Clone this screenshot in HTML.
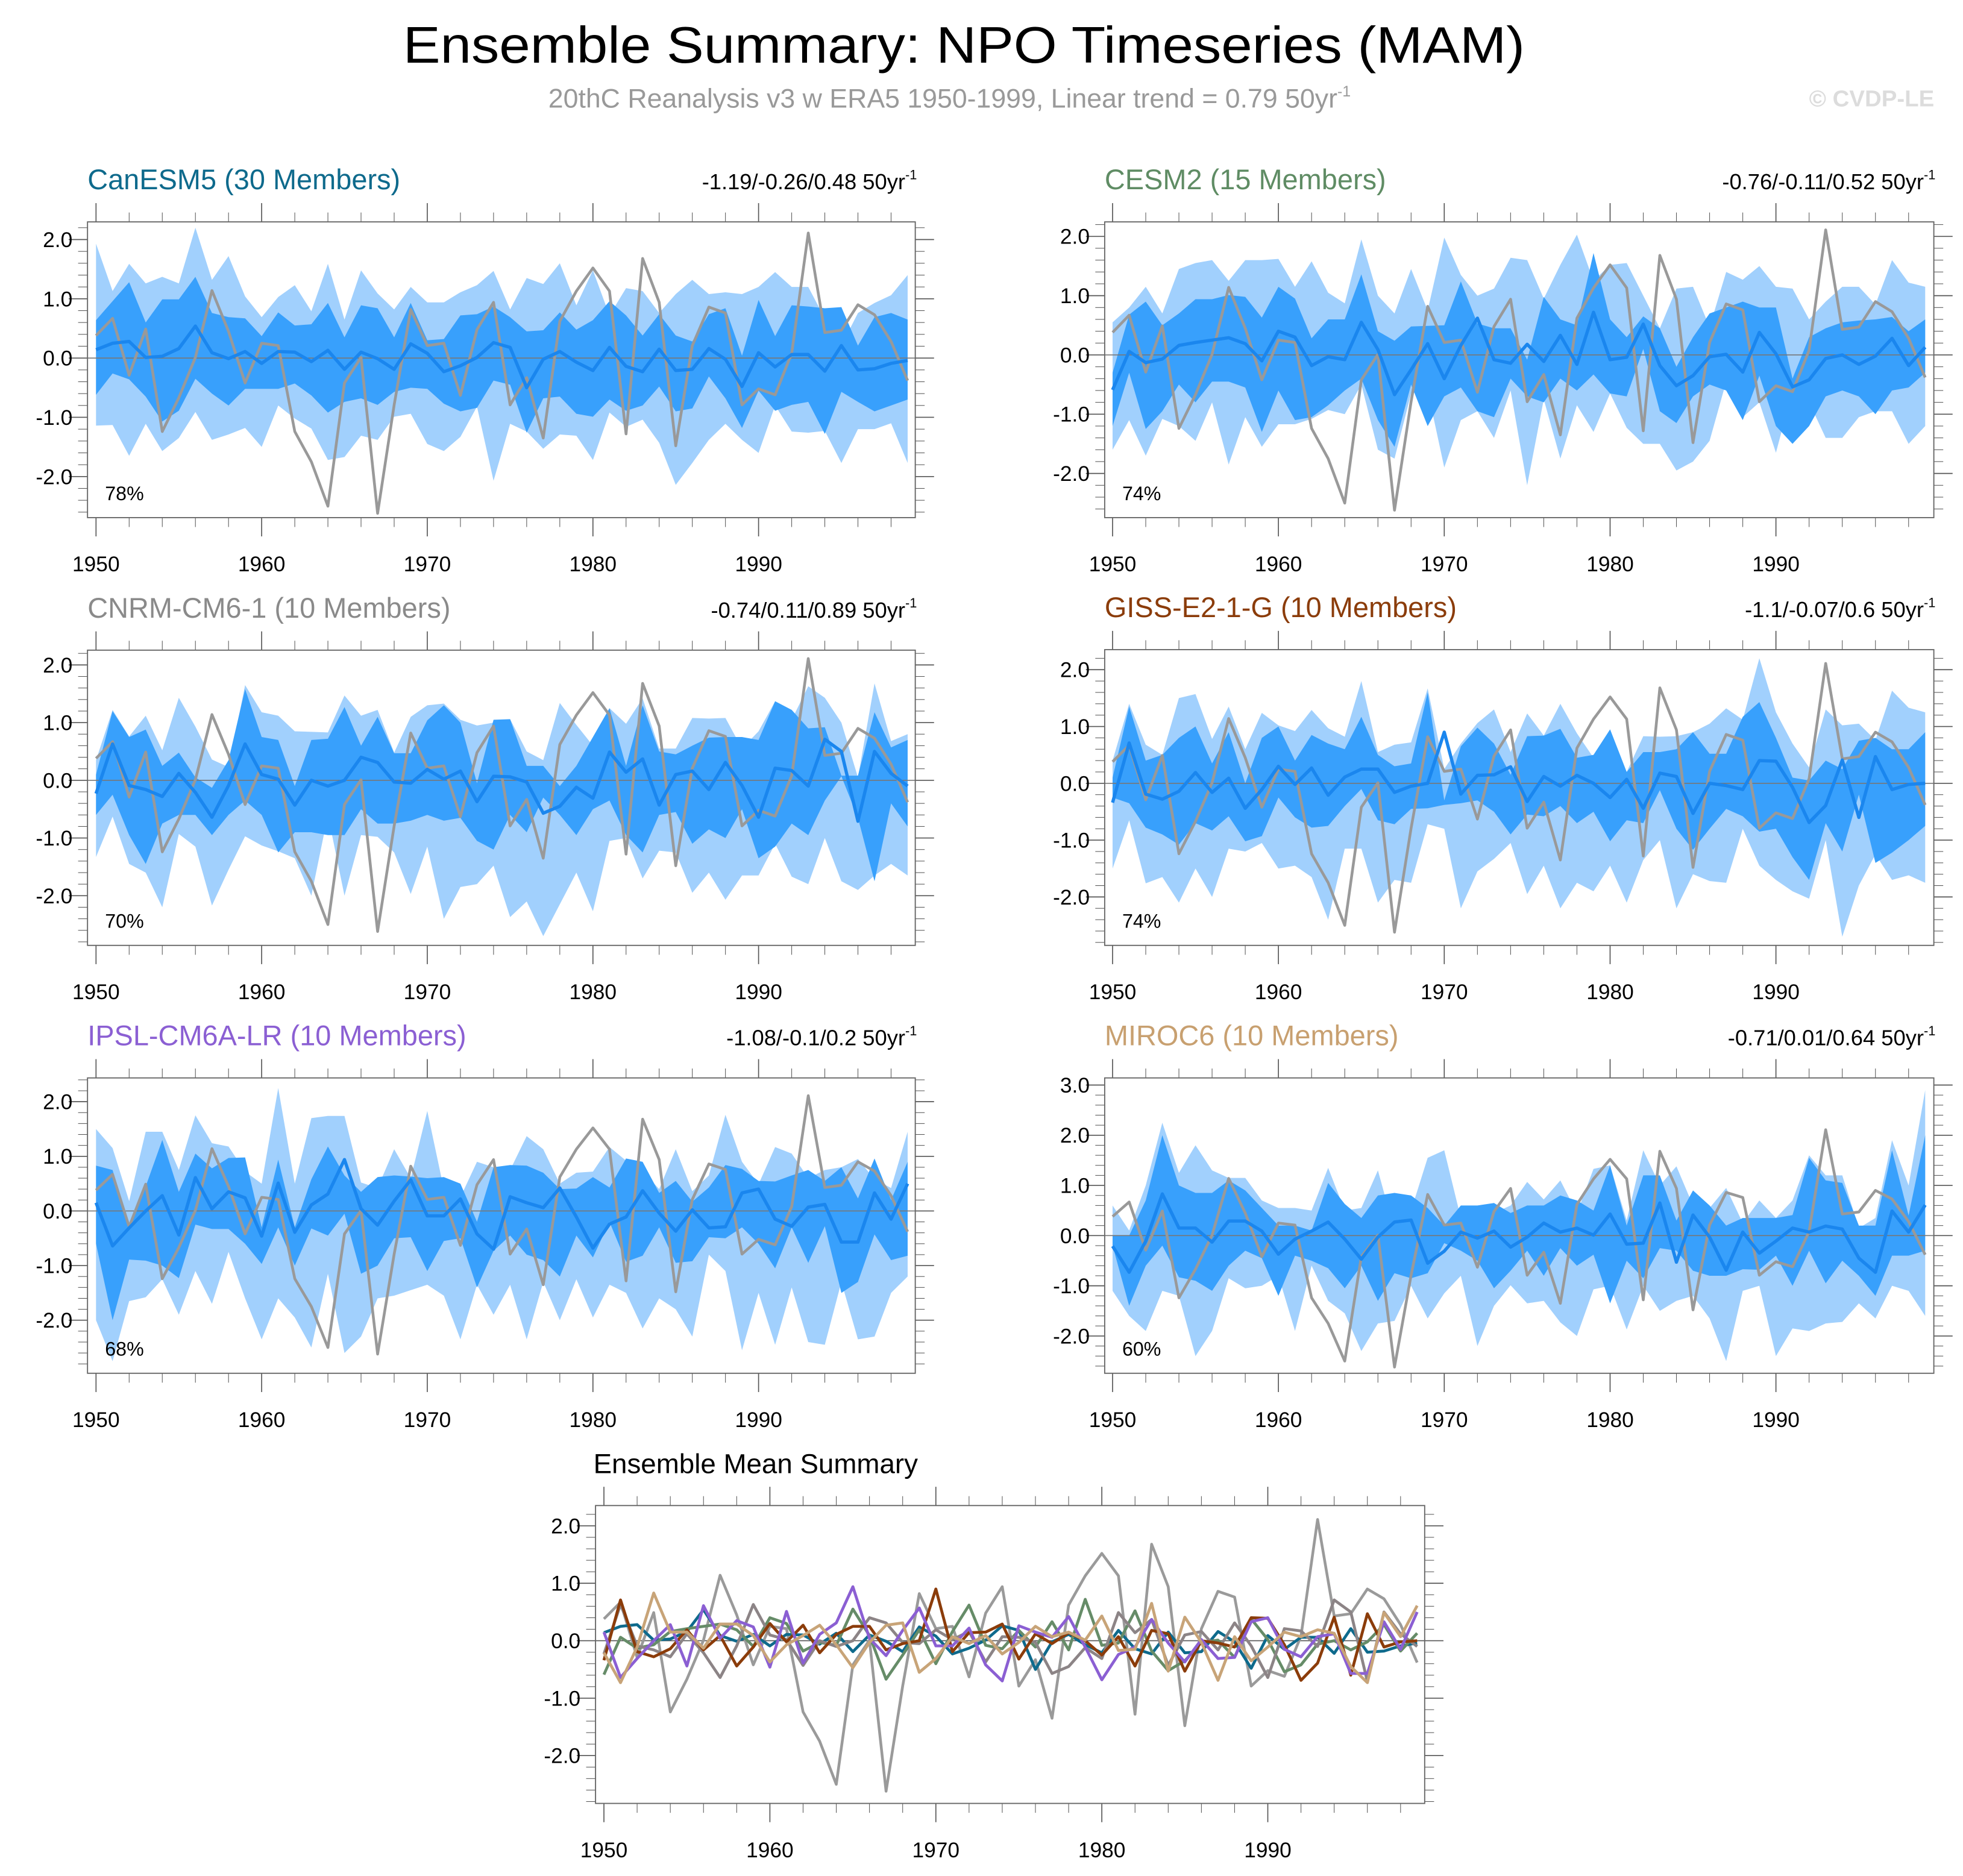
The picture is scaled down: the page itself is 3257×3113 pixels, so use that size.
<!DOCTYPE html>
<html><head><meta charset="utf-8"><title>Ensemble Summary: NPO Timeseries (MAM)</title>
<style>
html,body{margin:0;padding:0;background:#fff;}
svg{display:block;font-family:"Liberation Sans",Arial,sans-serif;}
</style></head>
<body>
<svg id="chart" xmlns="http://www.w3.org/2000/svg" width="3257" height="3113" viewBox="0 0 1568 1499" preserveAspectRatio="none">
<rect x="0" y="0" width="1568" height="1499" fill="#fff"/>
<text x="770" y="50" font-size="41" text-anchor="middle" textLength="896" lengthAdjust="spacingAndGlyphs" fill="#000">Ensemble Summary: NPO Timeseries (MAM)</text>
<text x="438" y="86" font-size="21.5" fill="#999">20thC Reanalysis v3 w ERA5 1950-1999, Linear trend = 0.79 50yr<tspan font-size="12" dy="-9">-1</tspan></text>
<text x="1545" y="85" font-size="18.5" font-weight="bold" text-anchor="end" fill="#dcdcdc">© CVDP-LE</text>
<g id="plots"></g>
</svg>
<script>
const years = [];
for (let y = 1950; y <= 1999; y++) years.push(y);
const xTickLabels = ["1950","1960","1970","1980","1990"];

const obs = [0.38,0.67,-0.29,0.49,-1.24,-0.67,0.01,1.14,0.45,-0.42,0.25,0.21,-1.24,-1.75,-2.5,-0.42,0.01,-2.62,-0.79,0.82,0.21,0.25,-0.63,0.48,0.94,-0.79,-0.33,-1.35,0.62,1.13,1.52,1.13,-1.28,1.68,0.94,-1.48,0.21,0.86,0.76,-0.79,-0.52,-0.62,0.08,2.11,0.43,0.47,0.9,0.73,0.28,-0.38];

const canMean = [0.14,0.25,0.28,0.01,0.03,0.16,0.54,0.09,-0.01,0.11,-0.09,0.11,0.1,-0.06,0.13,-0.19,0.1,-0.01,-0.19,0.24,0.08,-0.23,-0.13,0.01,0.26,0.18,-0.5,-0.02,0.11,-0.07,-0.21,0.18,-0.14,-0.23,0.15,-0.21,-0.19,0.16,-0.02,-0.48,0.09,-0.15,0.06,0.06,-0.22,0.21,-0.2,-0.18,-0.09,-0.04];
const canDHi = [0.64,0.96,1.28,0.6,0.99,0.99,1.37,0.76,0.69,0.67,0.37,0.77,0.55,0.57,0.93,0.35,0.89,0.84,0.35,0.93,0.3,0.32,0.72,0.74,0.87,0.69,0.45,0.47,0.77,0.48,0.64,0.96,0.72,0.38,0.74,0.38,0.28,0.74,0.84,0.04,0.98,0.37,0.89,0.87,0.84,0.86,0.21,0.69,0.76,0.65];
const canDLo = [-0.62,-0.26,-0.36,-0.65,-1.07,-0.89,-0.35,-0.6,-0.8,-0.52,-0.52,-0.52,-0.43,-0.63,-0.92,-0.74,-0.68,-0.79,-0.57,-0.5,-0.52,-0.77,-0.9,-0.84,-0.38,-0.45,-1.26,-0.68,-0.65,-0.94,-0.99,-0.7,-0.89,-0.8,-0.48,-0.9,-0.85,-0.31,-0.68,-1.18,-0.55,-0.89,-0.79,-0.74,-1.28,-0.57,-0.74,-0.9,-0.8,-0.7];
const canLHi = [1.93,1.13,1.59,1.26,1.37,1.26,2.2,1.32,1.72,1.04,0.69,1.03,1.23,0.79,1.59,0.65,1.48,1.09,0.82,1.2,0.94,0.94,1.11,1.23,1.47,0.82,1.35,1.25,1.6,0.89,1.48,0.72,1.18,1.13,0.76,1.08,1.32,1.08,1.11,1.08,1.2,1.45,1.2,1.2,0.67,0.21,0.76,0.93,1.06,1.4];
const canLLo = [-1.14,-1.13,-1.65,-1.11,-1.57,-1.35,-0.91,-1.38,-1.29,-1.18,-1.5,-0.8,-1.02,-1.19,-1.72,-1.67,-1.31,-1.38,-0.99,-0.94,-1.45,-1.57,-1.33,-0.82,-2.07,-1.11,-1.24,-1.53,-1.29,-1.31,-1.72,-0.92,-1.16,-1.04,-1.43,-2.14,-1.77,-1.38,-1.11,-1.38,-1.6,-0.8,-1.24,-1.26,-1.23,-1.77,-1.2,-1.2,-1.1,-1.77];

const cesmMean = [-0.59,0.06,-0.13,-0.07,0.16,0.21,0.25,0.29,0.19,-0.1,0.4,0.3,-0.18,-0.03,-0.08,0.55,0.09,-0.67,-0.25,0.19,-0.4,0.16,0.62,-0.08,-0.14,0.18,-0.11,0.33,-0.16,0.72,-0.08,-0.04,0.52,-0.18,-0.52,-0.35,-0.03,0.01,-0.29,0.38,0.02,-0.54,-0.42,-0.06,0,-0.16,-0.02,0.28,-0.18,0.13];
const cesmDHi = [-0.3,0.68,0.9,0.5,0.7,0.94,0.94,1.01,0.98,0.63,1.15,0.95,0.28,0.6,0.6,1.36,0.4,0.24,0.48,0.49,0.5,1.24,0.53,0.45,0.45,-0.08,0.98,0.6,0.5,1.72,0.6,0.3,0.65,0.45,-0.2,0.3,0.7,0.8,0.9,0.8,0.8,-0.4,0.3,0.45,0.55,0.58,0.6,0.64,0.4,0.6];
const cesmDLo = [-1.2,-0.3,-1.25,-0.95,-0.5,-0.8,-0.45,-0.45,-0.55,-1.3,-0.6,-1.1,-1.05,-0.85,-0.6,-0.4,-1.1,-1.55,-0.5,-1.2,-0.7,-0.55,-0.95,-1.05,-0.4,-0.7,-0.8,-0.4,-0.6,-0.33,-0.65,-0.7,0.1,-0.95,-1.15,-0.7,-0.5,-0.6,-1.1,-0.35,-1.2,-1.5,-1.2,-0.7,-0.6,-0.7,-1.0,-0.6,-0.55,-0.3];
const cesmLHi = [0.55,0.8,1.15,0.7,1.45,1.55,1.6,1.25,1.6,1.6,1.62,1.15,1.58,1.05,0.87,1.95,1.0,0.7,1.45,0.75,1.98,1.35,1.0,1.12,1.64,1.6,0.95,1.52,2.03,1.25,1.52,1.55,1.0,0.45,1.12,1.15,0.47,1.4,1.27,1.5,1.15,1.12,0.6,0.9,1.15,1.15,0.85,1.6,1.22,1.15];
const cesmLLo = [-1.6,-1.1,-1.7,-1.08,-1.2,-1.45,-0.8,-1.85,-1.05,-1.55,-1.17,-1.17,-1.08,-0.93,-1.0,-0.5,-1.6,-1.75,-0.65,-0.6,-1.9,-1.1,-0.95,-1.4,-0.6,-2.2,-0.75,-1.75,-0.85,-1.3,-0.65,-1.23,-1.5,-1.5,-1.95,-1.8,-1.45,-0.45,-1.05,-0.8,-1.65,-0.6,-0.8,-1.4,-1.4,-1.05,-0.95,-0.95,-1.5,-1.2];

const cnrmMean = [-0.23,0.63,-0.09,-0.16,-0.28,0.12,-0.21,-0.64,-0.09,0.63,0.1,0.02,-0.43,0,-0.1,0,0.4,0.31,-0.03,-0.05,0.19,0.02,0.16,-0.37,0.07,0.06,-0.03,-0.57,-0.45,-0.12,-0.31,0.49,0.14,0.37,-0.43,0.1,0.16,-0.16,0.31,-0.09,-0.64,0.21,0.17,-0.1,0.71,0.5,-0.71,0.5,0.12,-0.1];
const cnrmDHi = [0.1,1.2,0.75,0.88,0.25,0.48,0.05,-0.13,0.35,1.58,0.75,0.7,-0.1,0.7,0.72,1.27,0.6,1.1,0.47,0.47,1.04,1.3,1.0,-0.05,1.05,1.06,0.25,0.25,-0.1,0.25,0.75,1.25,0.25,1.3,0.5,0.45,0.6,0.74,0.75,0.75,0.7,1.37,1.22,0.9,0.92,0.08,0.08,1.18,0.57,0.7];
const cnrmDLo = [-0.6,-0.25,-0.95,-1.45,-0.75,-0.6,-0.6,-0.95,-0.6,-0.35,-0.6,-1.25,-0.9,-0.9,-0.95,-0.95,-0.5,-0.75,-0.75,-0.7,-0.6,-0.7,-0.65,-1.05,-1.2,-0.6,-0.9,-0.3,-0.6,-0.95,-0.5,-0.35,-0.95,-1.25,-0.6,-0.55,-1.1,-0.85,-1.0,-0.5,-1.35,-1.15,-0.75,-0.95,-0.35,0.07,-0.65,-1.75,-0.4,-0.8];
const cnrmLHi = [0.35,1.22,0.76,1.12,0.52,1.43,0.93,0.36,0.23,1.65,1.18,1.12,0.85,0.84,0.83,1.47,1.12,1.22,0.48,1.1,1.3,1.33,1.05,0.95,1.0,1.06,0.5,0.35,1.34,0.96,0.6,1.25,0.98,1.42,0.55,0.55,1.08,1.07,1.08,0.55,0.85,1.37,1.05,1.63,1.43,1.0,0.05,1.68,0.68,0.8];
const cnrmLLo = [-1.33,-0.63,-1.45,-1.6,-2.2,-0.93,-1.15,-2.17,-1.55,-0.97,-1.13,-1.23,-1.35,-2.0,-0.6,-2.0,-0.95,-0.98,-1.25,-1.97,-1.15,-2.4,-1.85,-1.8,-1.48,-2.37,-2.1,-2.7,-2.15,-1.6,-2.27,-1.05,-1.0,-1.7,-1.22,-1.25,-1.95,-1.6,-2.07,-1.65,-1.65,-1.1,-1.67,-1.8,-1.0,-1.75,-1.9,-1.65,-1.45,-1.65];

const gissMean = [-0.34,0.71,-0.19,-0.28,-0.14,0.19,-0.16,0.09,-0.44,-0.11,0.3,-0.02,0.27,-0.21,0.11,0.25,0.25,-0.16,-0.05,0,0.9,-0.19,0.14,0.15,0.29,-0.32,0.12,-0.05,0.14,0,-0.25,0.07,-0.44,0.18,0.12,-0.53,0,-0.04,-0.11,0.4,0.39,-0.07,-0.69,-0.39,0.41,-0.6,0.47,-0.11,-0.02,0];
const gissDHi = [0.1,1.35,0.4,0.5,0.8,1.0,0.35,0.9,0.0,0.8,1.0,0.4,0.85,0.7,0.6,1.17,0.5,0.3,0.35,1.6,-0.3,0.65,0.98,0.7,0.15,0.83,0.84,0.96,0.45,0.5,0.95,0.2,0.55,0.55,0.6,0.9,0.52,0.52,1.17,1.43,0.8,0.1,0.05,0.4,0.25,0.75,0.8,0.6,0.6,0.9];
const gissDLo = [-0.25,-0.35,-0.78,-0.9,-1.08,-0.7,-0.83,-0.58,-1.02,-0.93,-0.25,-0.6,-0.78,-0.75,-0.4,-0.1,-0.65,-0.72,-0.45,-0.44,-0.38,-0.35,-0.3,-0.5,-0.9,-0.55,-0.58,-0.4,-0.7,-0.5,-1.02,-0.65,-0.7,-0.12,-0.8,-1.17,-0.8,-0.45,-0.58,-0.85,-0.8,-1.3,-1.7,-0.7,-1.2,-0.2,-1.4,-1.22,-1.0,-0.75];
const gissLHi = [0.4,1.4,0.68,0.5,1.5,1.57,0.78,1.35,0.6,1.24,1.02,0.92,1.29,0.97,0.82,1.8,0.55,0.68,0.72,1.67,0.25,0.7,1.06,1.3,0.55,1.23,0.84,1.4,0.88,0.45,0.5,0.2,0.83,0.82,0.83,0.9,1.05,1.32,1.12,2.2,1.25,0.7,0.28,1.3,1.02,1.05,0.76,1.63,1.33,1.25];
const gissLLo = [-1.5,-0.65,-1.76,-1.65,-2.1,-1.5,-2.0,-1.15,-1.2,-1.05,-1.5,-1.45,-1.65,-2.4,-1.15,-1.15,-2.1,-1.7,-1.75,-0.72,-0.8,-2.2,-1.55,-1.33,-1.05,-1.95,-1.45,-2.2,-1.75,-1.9,-1.45,-2.1,-1.35,-1.0,-2.2,-1.6,-1.72,-1.75,-0.8,-1.45,-1.7,-1.9,-2.03,-1.0,-2.7,-1.8,-1.25,-1.7,-1.62,-1.75];

const ipslMean = [0.15,-0.64,-0.31,0,0.28,-0.44,0.61,0.04,0.35,0.24,-0.46,0.51,-0.39,0.11,0.31,0.94,0.04,-0.26,0.18,0.57,-0.09,-0.09,0.22,-0.42,-0.7,0.26,0.15,0.06,0.42,-0.11,-0.68,-0.24,-0.11,0.37,-0.04,-0.37,0.02,-0.31,-0.29,0.33,0.4,-0.15,-0.28,0.07,0.12,-0.57,-0.57,0.33,-0.15,0.5];
const ipslDHi = [0.83,0.75,-0.3,0.45,1.3,0.35,1.05,0.78,0.97,0.98,-0.3,0.94,-0.3,0.58,1.18,0.65,0.35,0.62,0.65,0.63,0.6,0.62,0.5,-0.2,0.8,0.84,0.83,0.7,0.4,0.41,0.62,0.43,0.96,0.9,0.33,0.55,0.17,0.43,0.84,0.77,0.55,0.54,0.65,0.75,0.55,0.8,0.23,0.96,0.2,0.9];
const ipslDLo = [-0.6,-2.0,-0.89,-0.91,-1.0,-1.23,-0.25,-0.33,-0.33,-0.6,-0.97,-0.3,-1.0,-0.32,-0.45,-0.05,-1.15,-1.0,-0.5,-0.48,-1.1,-0.55,-0.5,-1.4,-0.73,-0.45,-0.8,-0.9,-1.2,-0.45,-0.85,-0.2,-0.93,-0.82,-0.3,-0.95,-0.92,-0.48,-0.5,-0.3,-0.6,-1.05,-0.3,-0.95,-0.28,-1.5,-1.3,-0.43,-0.9,-0.82];
const ipslLHi = [1.5,1.15,0.18,1.45,1.45,0.75,1.75,1.24,1.18,0.72,0.5,2.25,0.5,1.7,1.74,1.74,0.52,0.42,1.13,0.6,1.83,0.4,0.25,0.9,0.8,0.75,1.37,1.13,0.5,0.7,0.72,1.17,0.92,0.73,0.4,1.13,0.36,0.65,1.76,0.9,0.49,1.17,1.05,0.6,0.75,0.8,0.95,0.58,0.42,1.45];
const ipslLLo = [-2.0,-2.75,-1.65,-1.58,-1.25,-1.9,-1.1,-1.7,-0.75,-1.6,-2.35,-1.6,-1.95,-2.5,-1.15,-2.6,-2.3,-1.6,-1.55,-1.45,-1.35,-1.55,-2.35,-1.35,-1.9,-1.35,-2.35,-1.3,-2.0,-1.25,-1.95,-1.35,-1.5,-2.15,-1.6,-1.8,-2.3,-0.8,-1.1,-2.55,-1.5,-2.45,-1.4,-2.4,-2.45,-1.3,-2.35,-2.3,-1.5,-1.2];

const mirocMean = [-0.21,-0.73,-0.11,0.83,0.15,0.15,-0.13,0.29,0.29,0.09,-0.37,-0.07,0.09,0.27,-0.07,-0.47,-0.03,0.27,0.31,-0.55,-0.31,0.07,-0.05,0.09,-0.23,-0.03,0.25,0.07,0.15,0.01,0.43,-0.17,-0.15,0.65,-0.53,0.41,-0.03,-0.69,0.07,-0.35,-0.11,0.15,0.07,0.19,0.13,-0.45,-0.73,0.49,0.07,0.61];
const mirocDHi = [0.0,0.0,0.7,2.0,1.0,0.85,0.85,1.1,0.9,0.55,0.2,0.2,0.1,1.05,0.63,0.35,0.8,0.85,0.8,0.55,0.2,0.6,0.6,0.65,0.45,0.6,0.6,0.8,0.7,0.5,1.4,0.2,1.2,1.2,0.3,0.9,0.6,0.2,0.35,0.35,0.35,0.41,1.55,1.1,1.05,0.2,0.2,1.7,0.4,2.0];
const mirocDLo = [-0.2,-1.4,-0.6,-0.2,-0.83,-0.9,-1.1,-0.6,-0.3,-0.45,-1.2,-0.4,-0.5,-0.65,-1.05,-0.6,-1.3,-0.75,-0.85,-0.75,-0.15,-0.3,-0.5,-1.05,-0.7,-0.3,-0.8,-0.25,-0.6,-0.38,-1.35,-0.5,-0.85,-0.25,-0.3,-0.7,-0.8,-0.8,-0.67,-0.68,-0.4,-1.0,-0.3,-0.95,-0.5,-0.8,-1.2,-0.4,-0.4,-0.3];
const mirocLHi = [0.6,0.1,1.0,2.25,1.25,1.8,1.3,1.15,1.15,0.7,0.55,0.55,0.5,1.35,0.5,0.55,1.3,0.1,0.5,1.55,1.7,0.35,0.45,0.45,0.6,1.07,0.72,1.1,0.45,1.33,1.4,0.3,1.7,1.0,1.38,0.6,0.55,0.95,0.25,0.7,0.35,0.7,1.6,1.2,1.2,0.15,0.35,1.9,1.0,2.9];
const mirocLLo = [-1.1,-1.6,-1.9,-1.1,-1.2,-2.4,-1.9,-0.85,-1.05,-1.0,-0.8,-1.9,-0.6,-1.3,-1.55,-2.3,-1.75,-1.7,-1.0,-1.65,-1.15,-0.8,-2.2,-1.4,-0.99,-1.35,-1.3,-1.73,-2.0,-1.07,-1.0,-1.87,-1.0,-1.5,-1.3,-1.2,-1.65,-2.5,-1.1,-1.0,-2.4,-1.85,-1.9,-1.75,-1.72,-1.35,-1.65,-1.0,-1.1,-1.6];

const modelNames = ["CanESM5 (30 Members)","CESM2 (15 Members)","CNRM-CM6-1 (10 Members)","GISS-E2-1-G (10 Members)","IPSL-CM6A-LR (10 Members)","MIROC6 (10 Members)"];
const trendLabels = ["-1.19/-0.26/0.48 50yr","-0.76/-0.11/0.52 50yr","-0.74/0.11/0.89 50yr","-1.1/-0.07/0.6 50yr","-1.08/-0.1/0.2 50yr","-0.71/0.01/0.64 50yr"];
const pctLabels = ["78%","74%","70%","74%","68%","60%"];
const yTickLabels = [["-2.0","-1.0","0.0","1.0","2.0"],["-2.0","-1.0","0.0","1.0","2.0"],["-2.0","-1.0","0.0","1.0","2.0"],["-2.0","-1.0","0.0","1.0","2.0"],["-2.0","-1.0","0.0","1.0","2.0"],["-2.0","-1.0","0.0","1.0","2.0","3.0"]];
const bottomYTicks = ["-2.0","-1.0","0.0","1.0","2.0"];

const NS = "http://www.w3.org/2000/svg";
const root = document.getElementById('plots');
function mk(tag, attrs, parent){
  const e = document.createElementNS(NS, tag);
  for (const k in attrs) e.setAttribute(k, attrs[k]);
  (parent||root).appendChild(e);
  return e;
}

const modelColors = ["#0e6a8c","#5f8c64","#8a8a8a","#8b3c0a","#8b5fd3","#c8a070"];
const bottomColors = ["#0e6a8c","#668c68","#8c8486","#8b3c0a","#8b5fd3","#c8a478"];
const panelData = [
  [canMean,canDHi,canDLo,canLHi,canLLo],
  [cesmMean,cesmDHi,cesmDLo,cesmLHi,cesmLLo],
  [cnrmMean,cnrmDHi,cnrmDLo,cnrmLHi,cnrmLLo],
  [gissMean,gissDHi,gissDLo,gissLHi,gissLLo],
  [ipslMean,ipslDHi,ipslDLo,ipslLHi,ipslLLo],
  [mirocMean,mirocDHi,mirocDLo,mirocLHi,mirocLLo]
];
const layout = [
  {L:69.9,R:731.1,x0:76.7,x1:725,T:177.3,B:413.6,z:286.1,u:47.35},
  {L:882.4,R:1544.7,x0:888.7,x1:1537.8,T:177.3,B:413.6,z:283.6,u:47.35},
  {L:69.9,R:731.1,x0:76.7,x1:725,T:519.5,B:755.4,z:623.5,u:46.1},
  {L:882.4,R:1544.7,x0:888.7,x1:1537.8,T:519.1,B:755.4,z:625.9,u:45.4},
  {L:69.9,R:731.1,x0:76.7,x1:725,T:861.3,B:1097.3,z:967.6,u:43.65},
  {L:882.4,R:1544.7,x0:888.7,x1:1537.8,T:861.3,B:1097.3,z:987.3,u:40.1}
];

function axisFns(c){
  const xs = yr => c.x0 + (yr-1950)*(c.x1-c.x0)/49;
  const ys = v => c.z - v*c.u;
  return [xs, ys];
}
function pts(xs, ys, arr){ return arr.map((v,i)=>xs(years[i]).toFixed(2)+","+ys(v).toFixed(2)).join(" "); }
function band(xs, ys, hi, lo){
  const up = hi.map((v,i)=>xs(years[i]).toFixed(2)+","+ys(v).toFixed(2));
  const dn = lo.map((v,i)=>xs(years[i]).toFixed(2)+","+ys(v).toFixed(2)).reverse();
  return up.concat(dn).join(" ");
}

function drawFrame(g, c, xs, ys, yLabels){
  for (let yr=1950; yr<=1998; yr+=2){
    const major = (yr%10===0);
    const len = major?15:7.5;
    const x = xs(yr);
    const t1 = mk('line',{x1:x,x2:x,y1:c.T,y2:c.T-len,stroke:'#555','stroke-width':major?0.8:0.5},g);
    
    
    const t2 = mk('line',{x1:x,x2:x,y1:c.B,y2:c.B+len,stroke:'#555','stroke-width':major?0.8:0.5},g);
    
    
  }
  const vmin = (c.z - c.B)/c.u, vmax = (c.z - c.T)/c.u;
  for (let k=Math.ceil(vmin*5); k<=Math.floor(vmax*5); k++){
    const v = k/5;
    const major = (k%5===0);
    const len = major?15:7.5;
    const y = ys(v);
    const t1 = mk('line',{x1:c.L,x2:c.L-len,y1:y,y2:y,stroke:'#555','stroke-width':major?0.8:0.5},g);
    
    
    const t2 = mk('line',{x1:c.R,x2:c.R+len,y1:y,y2:y,stroke:'#555','stroke-width':major?0.8:0.5},g);
    
    
  }
  yLabels.forEach(lab=>{
    const v = parseFloat(lab);
    const t = mk('text',{x:c.L-12,y:ys(v)+6,'font-size':17,'text-anchor':'end',fill:'#000'},g);
    
    
    t.textContent = lab;
  });
  xTickLabels.forEach(lab=>{
    const t = mk('text',{x:xs(parseInt(lab)),y:c.B+43,'font-size':17,'text-anchor':'middle',fill:'#000'},g);
    
    
    t.textContent = lab;
  });
  const fr = mk('rect',{x:c.L,y:c.T,width:c.R-c.L,height:c.B-c.T,fill:'none',stroke:'#666','stroke-width':0.9},g);
  
  
}

layout.forEach((c,p)=>{
  const [xs, ys] = axisFns(c);
  const g = mk('g',{});
  
  
  const [mean,dHi,dLo,lHi,lLo] = panelData[p];
  const lb = mk('polygon',{points:band(xs,ys,lHi,lLo),fill:'#a1d0fd',stroke:'none'},g);
  
  
  const db = mk('polygon',{points:band(xs,ys,dHi,dLo),fill:'#38a0fc',stroke:'none'},g);
  
  
  const zl = mk('line',{x1:c.L,x2:c.R,y1:ys(0),y2:ys(0),stroke:'#777','stroke-width':0.8},g);
  
  
  const ol = mk('polyline',{points:pts(xs,ys,obs),fill:'none',stroke:'#999','stroke-width':2.2,'stroke-linejoin':'round'},g);
  
  
  const ml = mk('polyline',{points:pts(xs,ys,mean),fill:'none',stroke:'#1a86ee','stroke-width':2.6,'stroke-linejoin':'round'},g);
  
  
  drawFrame(g, c, xs, ys, yTickLabels[p]);
  const tt = mk('text',{x:c.L,y:c.T-26,'font-size':22.6,fill:modelColors[p]},g);
  
  
  tt.textContent = modelNames[p];
  const tr = mk('text',{x:c.R-8,y:c.T-26,'font-size':17.5,'text-anchor':'end',fill:'#000'},g);
  
  
  tr.textContent = trendLabels[p];
  const sup = mk('text',{x:c.R-8,y:c.T-34,'font-size':10.5,fill:'#000'},g);
  
  
  sup.textContent = '-1';
  const pc = mk('text',{x:c.L+14,y:c.B-14,'font-size':15.5,fill:'#000'},g);
  
  
  pc.textContent = pctLabels[p];
});

const cb = {L:475.7,R:1138,x0:482.4,x1:1132,T:1203,B:1441,z:1311,u:45.9};
(function(){
  const [xs, ys] = axisFns(cb);
  const g = mk('g',{});
  
  
  const zl = mk('line',{x1:cb.L,x2:cb.R,y1:ys(0),y2:ys(0),stroke:'#555','stroke-width':0.8},g);
  
  
  const ol = mk('polyline',{points:pts(xs,ys,obs),fill:'none',stroke:'#9a9a9a','stroke-width':2.2,'stroke-linejoin':'round'},g);
  
  
  panelData.forEach((d,i)=>{
    const l = mk('polyline',{points:pts(xs,ys,d[0]),fill:'none',stroke:bottomColors[i],'stroke-width':2.3,'stroke-linejoin':'round'},g);
    
    
  });
  drawFrame(g, cb, xs, ys, bottomYTicks);
  const tt = mk('text',{x:474,y:1177,'font-size':22,fill:'#000'},g);
  
  
  tt.textContent = 'Ensemble Mean Summary';
})();
</script>
</body></html>
